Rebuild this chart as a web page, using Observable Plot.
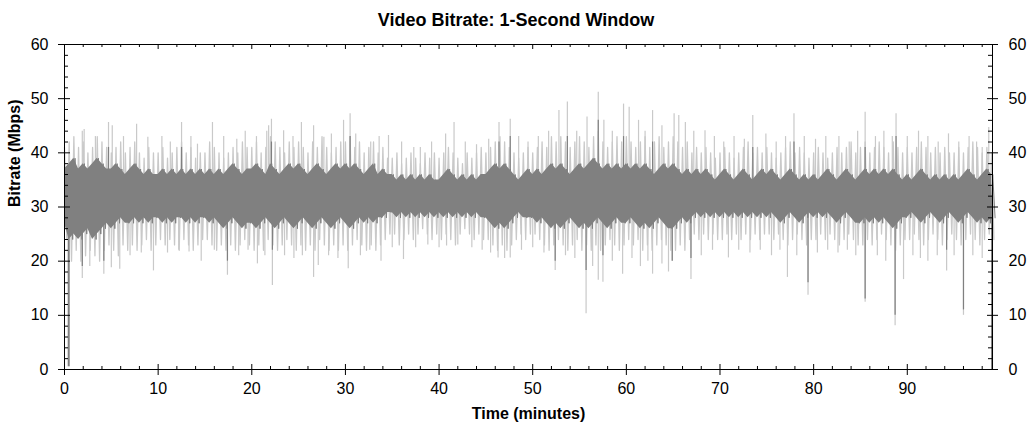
<!DOCTYPE html>
<html><head><meta charset="utf-8">
<script src="https://cdn.jsdelivr.net/npm/d3@7"></script>
<script src="https://cdn.jsdelivr.net/npm/@observablehq/plot@0.6"></script>
<style>
body{margin:0;background:#fff;font-family:Arial,"Liberation Sans",sans-serif;}
#title{height:34px;box-sizing:border-box;padding-top:10px;text-align:center;font-weight:bold;font-size:18px;line-height:20px;color:#000;}
</style></head><body>
<div id="title">Video Bitrate: 1-Second Window</div>
<div id="chart"></div>
<script>
// ---- data, one slot every half minute ----
const slotStep = 0.5;
const xMax = 99.1;
const lightHi = [
41,42,43,41,42,40,41,43,42,41, 40,41,42,40,41,42,40,39,41,40,
40,41,39,40,41,42,40,41,39,40, 40,42,41,40,39,40,41,40,42,41,
41,42,40,41,43,42,41,40,42,41, 42,41,40,42,41,43,41,40,41,42,
42,43,41,42,40,41,42,40,41,39, 39,40,38,39,40,39,38,40,39,40,
39,40,41,40,39,38,40,39,40,41, 40,41,42,43,42,41,40,39,40,41,
40,41,42,41,43,42,43,42,41,42, 43,42,41,43,44,42,41,42,43,42,
43,42,41,42,43,41,42,43,41,42, 43,42,41,42,40,41,40,41,40,39,
40,41,40,39,40,41,42,40,41,40, 41,40,39,40,41,42,40,41,40,39,
40,41,40,39,40,41,40,41,42,40, 41,42,40,41,42,41,40,42,41,40,
41,40,41,42,41,40,41,40,41,40, 40,41,40,41,42,41,40,41,40];
const lightLo = [
24,20,22,20,21,22,21,20,22,23, 22,21,23,22,23,22,23,24,22,23,
24,23,24,23,22,24,23,22,23,24, 24,23,22,23,22,23,22,23,24,23,
22,23,22,24,23,22,23,24,23,22, 23,22,23,22,24,23,22,23,22,23,
22,23,24,23,22,23,22,23,24,25, 25,23,24,25,24,25,26,25,24,25,
24,25,24,23,25,26,25,24,25,24, 24,23,22,23,22,23,24,25,24,25,
25,24,23,22,23,24,23,22,23,24, 22,23,22,23,22,23,24,23,22,23,
24,23,24,22,23,22,23,24,23,22, 22,23,22,24,25,24,25,24,25,24,
24,25,24,25,24,25,24,25,24,25, 25,24,25,24,23,24,25,24,23,24,
24,25,24,25,24,23,24,25,24,23, 23,24,23,24,25,24,23,22,23,24,
24,25,24,23,24,25,24,23,24,25, 24,23,24,25,24,23,24,25,24];
const darkHi = [
37,38,39,37,38,37,38,39,38,37, 37,38,37,36,37,38,37,36,37,36,
36,37,36,37,36,37,36,37,36,37, 36,37,36,37,36,37,38,37,36,37,
37,38,37,36,38,37,36,37,38,37, 38,37,36,37,38,37,36,37,38,37,
38,37,38,37,36,37,38,36,37,36, 36,35,36,35,36,35,36,35,36,35,
35,36,37,36,35,36,35,36,35,36, 36,37,38,37,38,37,36,35,36,37,
36,37,36,37,38,37,38,37,36,37, 38,37,38,39,38,37,38,37,38,37,
38,37,38,37,38,37,36,37,38,37, 38,37,36,37,36,37,36,37,36,35,
36,37,36,35,36,37,36,35,36,37, 36,37,36,35,36,37,36,35,36,35,
36,35,36,37,36,35,36,37,36,35, 36,37,36,37,36,37,36,37,36,35,
36,35,36,37,36,35,36,35,36,35, 36,35,36,37,36,35,36,37,36];
const darkLo = [
27,24,25,24,25,26,24,25,26,27, 26,27,28,27,27,28,27,28,27,28,
28,27,28,27,28,28,27,28,27,28, 28,27,28,27,26,27,28,27,26,27,
27,26,27,28,27,26,27,28,27,26, 27,28,27,26,27,28,27,26,27,28,
27,26,27,28,27,28,27,28,28,29, 29,28,29,28,29,28,29,28,29,28,
29,28,29,28,29,28,29,28,29,28, 28,27,26,27,26,27,28,29,28,28,
28,27,28,27,26,27,26,27,28,27, 26,27,26,27,28,27,26,27,28,27,
27,28,27,26,27,26,27,28,27,26, 26,27,28,27,28,29,28,29,28,29,
28,29,28,29,28,29,28,29,28,29, 28,29,28,27,28,29,28,27,28,29,
28,29,28,29,28,27,28,29,28,27, 27,28,27,28,27,28,27,26,27,28,
28,29,28,27,28,29,28,27,28,29, 28,27,28,29,28,27,28,27,28];
// isolated one-second peaks and dips: [minute, Mbps]
const upBase = 34, downBase = 30;
const upSpikes = [
[1.9,44],[2.1,44.3],[3.3,43],[4.7,45.6],[5.1,45],[6.3,43],[7.7,45.3],[8.9,42.9],[10.4,43],[11.3,42],
[12.5,45.6],[13.5,43],[14.2,41.6],[15.8,45.6],[17.0,43],[18.4,42.5],[19.3,44],[20.5,43],[21.6,44],[22.1,46.2],
[21.8,45],[23.4,44.1],[24.4,43],[25.3,45.6],[26.6,45],[27.7,42.9],[28.5,43.5],[29.8,46],[30.5,47.2],[31.1,43.5],
[32.7,42],[33.6,43],[34.6,43.2],[36.0,42],[37.3,41],[38.0,41],[39.2,42],[40.7,43.5],[41.6,45.6],[42.8,42],
[44.0,41.5],[45.3,42.5],[46.4,45.6],[47.6,46.2],[48.5,43],[49.5,42],[50.6,43],[51.7,44],[52.8,47.8],[53.7,49.4],
[54.7,44],[55.8,46.6],[57.0,51.2],[57.6,46],[58.5,44],[59.7,49],[60.3,48.4],[61.3,46],[62.0,44],[62.8,47.8],
[63.8,45],[65.1,47.2],[65.6,46.9],[66.3,45.6],[67.2,44],[68.4,44.1],[69.4,43],[70.4,42],[71.5,43],[72.6,42.5],
[73.5,46.9],[74.9,43.5],[76.0,42],[77.0,43],[77.9,47.2],[79.0,43],[80.2,42.5],[81.3,43],[82.7,43],[83.8,42],
[84.7,44],[85.5,47.5],[86.6,43],[87.5,44],[88.4,43],[88.8,47.2],[90.0,43],[91.2,44],[92.2,43],[93.3,42],
[94.4,43.5],[95.5,42],[96.6,43],[97.4,42],[98.0,41],[98.7,44.7]];
const downSpikes = [
[1.9,16.8],[2.7,19],[4.2,17.6],[5.0,18.8],[5.9,18.5],[7.0,21],[8.2,21.5],[9.5,18.2],[11.0,21.5],[12.2,22],
[13.3,21.7],[14.6,20],[16.0,22],[17.4,17.4],[18.6,21],[19.6,22],[20.6,19.5],[21.4,21],[22.2,15.5],[23.5,21],
[24.5,20.5],[25.4,21],[26.6,17],[27.1,19.2],[28.2,21],[29.2,20.5],[30.3,18.6],[31.6,21],[32.6,22],[33.8,20],
[35.0,22.5],[36.2,20.3],[37.5,22.5],[38.8,23],[40.0,22.5],[40.8,22.8],[42.0,23],[43.5,22.5],[44.6,22],[45.5,21.5],
[46.3,20.6],[47.0,20.5],[47.6,20.6],[48.8,22],[50.0,22.5],[51.2,21.5],[52.4,18.3],[53.5,21],[54.5,20.5],[55.7,10.3],
[56.4,19],[57.0,16.5],[57.5,16.1],[58.5,20],[59.6,17.6],[60.6,20.5],[61.5,19],[62.3,20],[62.8,17.6],[63.8,19.5],
[64.5,18],[64.9,20],[66.9,16.6],[68.0,21],[69.2,22],[70.9,20.6],[72.0,22],[73.2,21.5],[74.3,22],[75.5,21],
[76.4,22],[77.2,17],[78.2,21],[79.4,13.7],[80.4,21.5],[81.5,22],[82.6,21.5],[83.6,22],[84.5,21],[85.5,12.4],
[86.8,21],[87.7,20],[88.7,8.1],[89.6,16.6],[90.6,21],[91.4,20.5],[92.2,20],[93.2,21],[94.2,18.2],[95.0,21],
[96.0,10.0],[97.0,21],[98.0,20.5]];
const darkUp = [[57,46],[53.7,43],[59.7,43],[22.1,42],[30.5,43],[47.6,43],[46.4,42],[88.8,43],[77.9,42],[73.5,41],[85.5,41],[4.7,41],[12.5,41],[62.8,42]];
const darkDown = [[55.7,18.3],[52.4,20],[64.9,20],[66.9,20.5],[79.4,16],[85.5,13],[88.7,10],[96.0,11],[17.4,20],[22.2,22],[4.2,20],[1.9,19],[57.5,21],[94.2,22]];
// start/end of stream: dips to zero
const drops = [[0.45,35,0.5],[99.05,32,0]];
// ticks
const xMajor = [0,10,20,30,40,50,60,70,80,90];
const yMajor = [0,10,20,30,40,50,60];
const xMinor = d3.range(0,99,2).filter(d => d % 10 !== 0);
const yMinor = d3.range(0,60,2).filter(d => d % 10 !== 0);

const slots = darkHi.map((hi,i) => ({t:i*slotStep, darkHi:hi, darkLo:darkLo[i]}));
// each slot's light high and low are drawn as successive samples of the trace
const lightTrace = lightHi.flatMap((hi,i) => [{t:i*slotStep, v:hi}, {t:i*slotStep + slotStep/2, v:lightLo[i]}]);
const darkTrace = darkHi.flatMap((hi,i) => [{t:i*slotStep + slotStep/4, v:hi}, {t:i*slotStep + 3*slotStep/4, v:darkLo[i]}]);
const toObj = a => a.map(([t,v]) => ({t, v}));

const lightColor = "#c9c9c9", darkColor = "#808080";
const W=1032, H=393, mL=64, mR=40, mT=10, mB=58;
const pw = W-mL-mR, ph = H-mT-mB;

const chart = Plot.plot({
  width:W, height:H, marginLeft:mL, marginRight:mR, marginTop:mT, marginBottom:mB,
  style:{fontFamily:'Arial,"Liberation Sans",sans-serif', fontSize:"16px", color:"#000", background:"#fff"},
  x:{domain:[0,xMax]}, y:{domain:[0,60]},
  marks:[
    Plot.ruleX(toObj(upSpikes),{x:"t", y1:upBase, y2:"v", stroke:lightColor, strokeWidth:1.2}),
    Plot.ruleX(toObj(downSpikes),{x:"t", y1:downBase, y2:"v", stroke:lightColor, strokeWidth:1.2}),
    Plot.line(lightTrace,{x:"t", y:"v", stroke:lightColor, strokeWidth:1.3}),
    Plot.areaY(slots,{x:"t", y1:"darkLo", y2:"darkHi", fill:darkColor}),
    Plot.line(darkTrace,{x:"t", y:"v", stroke:darkColor, strokeWidth:1}),
    Plot.ruleX(toObj(darkUp),{x:"t", y1:upBase, y2:"v", stroke:darkColor, strokeWidth:1.2}),
    Plot.ruleX(toObj(darkDown),{x:"t", y1:downBase, y2:"v", stroke:darkColor, strokeWidth:1.2}),
    Plot.ruleX(drops.map(([t,a,b])=>({t,a,b})),{x:"t", y1:"a", y2:"b", stroke:darkColor, strokeWidth:2}),
    Plot.frame({stroke:"#000"}),
    Plot.ruleY(yMajor,{insetLeft:-6, insetRight:pw-6, stroke:"#000"}),
    Plot.ruleY(yMinor,{insetLeft:0, insetRight:pw-4, stroke:"#000"}),
    Plot.ruleY(yMajor,{insetLeft:pw-5, insetRight:-6, stroke:"#000"}),
    Plot.ruleY(yMinor,{insetLeft:pw-4, insetRight:0, stroke:"#000"}),
    Plot.ruleX(xMajor,{insetTop:ph-5, insetBottom:-6, stroke:"#000"}),
    Plot.ruleX(xMinor,{insetTop:ph-3, insetBottom:0, stroke:"#000"}),
    Plot.ruleX(xMajor,{insetTop:0, insetBottom:ph-5, stroke:"#000"}),
    Plot.ruleX(xMinor,{insetTop:0, insetBottom:ph-3, stroke:"#000"}),
    Plot.axisX({anchor:"bottom", ticks:xMajor, tickSize:0, tickPadding:13, tickFormat:d=>String(d), label:null, fontSize:16}),
    Plot.axisY({anchor:"left", ticks:yMajor, tickSize:0, tickPadding:16, tickFormat:d=>String(d), label:null, fontSize:16}),
    Plot.axisY({anchor:"right", ticks:yMajor, tickSize:0, tickPadding:16, tickFormat:d=>String(d), label:null, fontSize:16}),
    Plot.text(["Time (minutes)"],{frameAnchor:"bottom", dy:49, fontWeight:"bold", fontSize:16}),
    Plot.text(["Bitrate (Mbps)"],{frameAnchor:"left", dx:-50, rotate:-90, fontWeight:"bold", fontSize:16})
  ]
});
document.getElementById("chart").appendChild(chart);
</script>
</body></html>
